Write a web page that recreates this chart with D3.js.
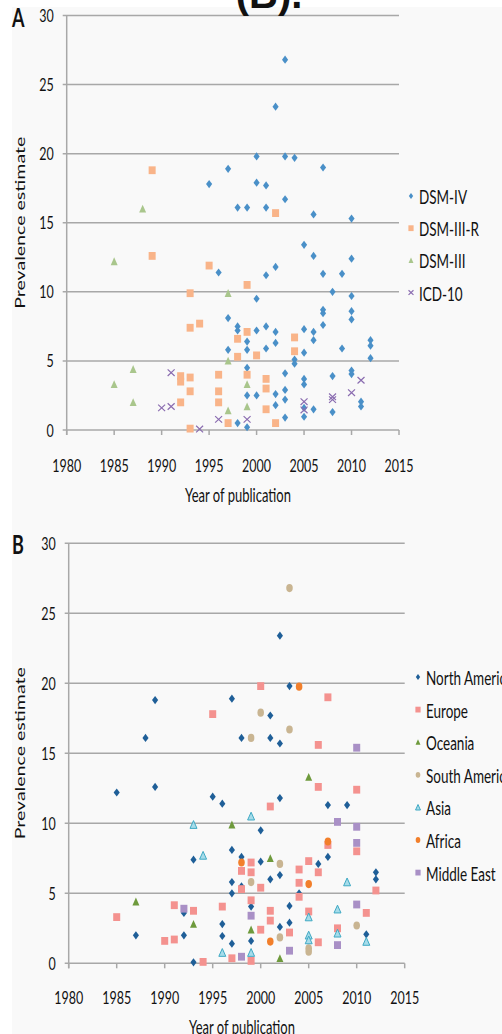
<!DOCTYPE html>
<html><head><meta charset="utf-8">
<script src="https://cdn.jsdelivr.net/npm/d3@7"></script>
<style>html,body{margin:0;padding:0;background:#fff;}svg{display:block;}</style>
</head><body>
<svg id="chart" width="502" height="1034"></svg>
<script>
// ---------- DATA ----------
const yearTicks = [1980,1985,1990,1995,2000,2005,2010,2015];
const valueTicks = [0,5,10,15,20,25,30];

// Panel A: diagnostic criteria  [year, prevalence]
const dsmIV = [[1995,17.8],[1996,11.4],[1997,18.9],[1997,8.1],[1997,5.8],[1998,16.1],[1998,7.5],[1998,7.2],[1998,0.5],
 [1999,16.1],[1999,6.4],[1999,5.8],[1999,4.5],[1999,2.5],[1999,0.2],[2000,19.8],[2000,17.9],[2000,9.5],[2000,7.2],[2000,2.5],
 [2001,17.7],[2001,16.1],[2001,11.2],[2001,7.5],[2001,5.9],[2002,23.4],[2002,11.8],[2002,7.1],[2002,6.3],[2002,2.6],[2002,1.8],
 [2003,26.8],[2003,19.8],[2003,16.7],[2003,4.1],[2003,2.9],[2003,2.2],[2003,0.9],[2004,19.7],[2004,5.1],[2004,4.8],
 [2005,13.4],[2005,7.3],[2005,5.6],[2005,3.7],[2005,3.3],[2005,1.6],[2005,0.96],[2006,15.6],[2006,12.6],[2006,7.1],[2006,6.5],[2006,1.5],
 [2007,19.0],[2007,11.3],[2007,8.7],[2007,8.45],[2007,7.6],[2008,10.0],[2008,3.9],[2008,1.3],[2009,11.3],[2009,5.9],
 [2010,15.3],[2010,12.4],[2010,9.7],[2010,8.6],[2010,8.0],[2010,4.3],[2010,4.05],[2011,2.05],[2011,1.7],[2012,6.5],[2012,6.1],[2012,5.2]];
const dsmIIIR = [[1989,18.8],[1989,12.6],[1992,3.9],[1992,3.5],[1992,2.0],[1993,9.9],[1993,7.4],[1993,3.8],[1993,2.8],[1993,0.1],
 [1994,7.7],[1995,11.9],[1996,4.0],[1996,2.8],[1996,2.0],[1997,0.5],[1998,6.6],[1998,5.3],[1999,10.5],[1999,7.1],[1999,4.0],
 [2000,5.4],[2001,3.7],[2001,3.0],[2001,1.5],[2002,15.7],[2002,0.5],[2004,6.7],[2004,5.7]];
const dsmIII = [[1985,12.2],[1985,3.3],[1987,4.4],[1987,2.0],[1988,16.0],[1997,9.9],[1997,5.0],[1997,1.4],[1999,3.3],[1999,1.7]];
const icd10 = [[1990,1.6],[1991,4.15],[1991,1.7],[1994,0.07],[1996,0.77],[1999,0.77],[2005,2.05],[2005,1.45],[2008,2.4],[2008,2.2],[2010,2.7],[2011,3.6]];

// Panel B: region
const northAmerica = [[1985,12.2],[1987,2.0],[1988,16.1],[1989,18.8],[1989,12.6],[1992,3.6],[1992,2.0],[1993,7.4],[1993,0.07],
 [1995,11.9],[1996,11.4],[1996,2.8],[1996,1.95],[1997,18.9],[1997,8.1],[1997,5.8],[1997,5.0],[1997,1.4],[1998,16.1],[1998,7.6],[1998,5.5],
 [1999,4.05],[1999,1.6],[2000,9.5],[2000,7.26],[2001,17.7],[2001,16.1],[2001,6.0],[2002,23.4],[2002,15.7],[2002,11.8],[2002,6.3],[2002,2.6],
 [2003,19.8],[2003,4.1],[2003,2.9],[2004,5.0],[2006,7.1],[2007,11.3],[2007,7.6],[2009,11.3],[2011,2.07],[2012,6.5],[2012,6.0]];
const europe = [[1985,3.3],[1990,1.6],[1991,4.15],[1991,1.7],[1993,3.75],[1994,0.1],[1995,17.8],[1996,4.05],[1997,0.36],
 [1998,6.6],[1998,5.3],[1999,7.2],[1999,6.5],[1999,4.5],[1999,0.17],[2000,19.8],[2000,5.4],[2000,2.4],[2001,11.2],[2001,3.75],[2001,3.05],
 [2003,2.2],[2004,6.7],[2004,5.75],[2004,4.75],[2005,7.3],[2005,3.7],[2006,15.6],[2006,12.6],[2006,6.5],[2006,1.5],[2007,19.0],[2007,8.45],
 [2008,2.5],[2010,12.4],[2010,8.0],[2011,3.6],[2012,5.2]];
const oceania = [[1987,4.4],[1993,2.8],[1997,9.9],[1999,2.4],[2001,7.5],[2002,0.36],[2005,13.3]];
const southAmerica = [[1999,16.1],[1999,5.8],[2000,17.9],[2002,7.1],[2002,1.85],[2003,26.8],[2003,16.7],[2005,1.07],[2005,0.83],[2010,2.7]];
const asia = [[1993,9.9],[1994,7.7],[1996,0.76],[1999,10.5],[1999,0.76],[2005,3.3],[2005,2.0],[2005,1.66],[2008,3.86],[2008,2.14],[2009,5.8],[2011,1.55]];
const africa = [[1998,7.2],[2001,1.55],[2004,19.76],[2005,5.66],[2007,8.7]];
const middleEast = [[1992,3.9],[1998,0.47],[1999,3.4],[2003,0.9],[2008,10.1],[2008,1.3],[2010,15.4],[2010,9.75],[2010,8.6],[2010,4.2]];

const seriesA = [
  {name:"DSM-IV", data:dsmIV, shape:"diamond", fill:"#4a90c8", stroke:"none"},
  {name:"DSM-III-R", data:dsmIIIR, shape:"square", fill:"#f9b489", stroke:"none"},
  {name:"DSM-III", data:dsmIII, shape:"triangle", fill:"#a9c68c", stroke:"none"},
  {name:"ICD-10", data:icd10, shape:"cross", fill:"none", stroke:"#8a6cb0"}
];
const seriesB = [
  {name:"North America", data:northAmerica, shape:"diamond", fill:"#1f5f98", stroke:"none"},
  {name:"Europe", data:europe, shape:"square", fill:"#f4928f", stroke:"none"},
  {name:"Oceania", data:oceania, shape:"triangle", fill:"#6e9a3c", stroke:"none"},
  {name:"South America", data:southAmerica, shape:"circle", fill:"#c9b592", stroke:"none"},
  {name:"Asia", data:asia, shape:"triangle", fill:"#a6dcea", stroke:"#3fa9c4"},
  {name:"Africa", data:africa, shape:"circle", fill:"#f27f2b", stroke:"none"},
  {name:"Middle East", data:middleEast, shape:"square", fill:"#a990c6", stroke:"none"}
];

// ---------- DRAW ----------
const SY = 1.45;
const FONT = "Lato, 'Open Sans', sans-serif";
const svg = d3.select("#chart");
svg.append("rect").attr("x",0).attr("y",0).attr("width",502).attr("height",1034).attr("fill","#ffffff");
svg.append("rect").attr("x",12).attr("y",7).attr("width",490).attr("height",1027).attr("fill","#f9f9f9");

function text(g, x, y, s, o={}) {
  const t = g.append("text")
    .attr("transform", `translate(${x},${y}) scale(1,${SY})` + (o.rotate ? ` rotate(${o.rotate})` : ""))
    .attr("font-family", FONT).attr("font-size", o.size || 12)
    .attr("font-weight", o.weight || "normal")
    .attr("fill", o.color || "#111")
    .attr("text-anchor", o.anchor || "start");
  if (o.dy) t.attr("dy", o.dy);
  t.text(s);
  return t;
}

function shapePath(shape, s) {
  const p = d3.path();
  if (shape === "diamond") { const w=s*0.75, h=s; p.moveTo(0,-h); p.lineTo(w,0); p.lineTo(0,h); p.lineTo(-w,0); p.closePath(); }
  else if (shape === "square") { const w=s*0.9, h=s; p.rect(-w,-h,2*w,2*h); }
  else if (shape === "triangle") { const w=s*0.85, h=s; p.moveTo(0,-h); p.lineTo(w,h*0.9); p.lineTo(-w,h*0.9); p.closePath(); }
  else if (shape === "cross") { const w=s*0.85, h=s*0.8; p.moveTo(-w,-h); p.lineTo(w,h); p.moveTo(w,-h); p.lineTo(-w,h); }
  return p.toString();
}

function drawMarker(g, shape, cx, cy, s, fill, stroke) {
  if (shape === "circle") {
    return g.append("ellipse").attr("cx",cx).attr("cy",cy).attr("rx",s*0.8).attr("ry",s).attr("fill",fill);
  }
  return g.append("path").attr("transform",`translate(${cx},${cy})`).attr("d",shapePath(shape,s))
    .attr("fill",fill).attr("stroke",stroke).attr("stroke-width", shape==="cross"?1.2:1);
}

function panel(cfg) {
  const g = svg.append("g");
  const x = d3.scaleLinear().domain([1980,2015]).range([cfg.x0, cfg.x1]);
  const y = d3.scaleLinear().domain([0,30]).range([cfg.y0, cfg.y1]);
  const grid = "#a8a8a8";
  valueTicks.forEach(v => {
    g.append("line").attr("x1", x(1980)-4).attr("x2", x(2015)).attr("y1", y(v)).attr("y2", y(v))
      .attr("stroke", grid).attr("stroke-width", 1.5);
    text(g, x(1980)-13, y(v), String(v), {anchor:"end", size:12.5, dy:"0.36em"});
  });
  g.append("line").attr("x1", x(1980)).attr("x2", x(1980)).attr("y1", y(30)).attr("y2", y(0)+5)
    .attr("stroke", grid).attr("stroke-width", 1.5);
  yearTicks.forEach(t => {
    g.append("line").attr("x1", x(t)).attr("x2", x(t)).attr("y1", y(0)).attr("y2", y(0)+5)
      .attr("stroke", grid).attr("stroke-width", 1.5);
    text(g, x(t), y(0)+cfg.tickDy, String(t), {anchor:"middle", size:12.5});
  });
  text(g, cfg.xTitleX, y(0)+cfg.titleDy, "Year of publication", {anchor:"middle", size:13});
  text(g, 25, (y(0)+y(30))/2, "Prevalence estimate", {anchor:"middle", size:13.5, rotate:-90});
  text(g, 12, y(30)+11, cfg.label, {size:18, weight:"bold"});
  cfg.series.forEach(s => {
    const mg = g.append("g");
    s.data.forEach(d => drawMarker(mg, s.shape, x(d[0]), y(d[1]), s.shape==="square"?3.9:4.1, s.fill, s.stroke));
  });
  cfg.series.forEach((s, i) => {
    const ly = cfg.legY + i*cfg.legStep;
    drawMarker(g, s.shape, cfg.legX, ly - 1, 2.9, s.fill, s.stroke);
    text(g, cfg.legX + 8, ly, s.name, {size:13.5, dy:"0.36em"});
  });
}

panel({label:"A", x0:66.7, x1:399, y0:430, y1:15.5, series:seriesA, tickDy:42, titleDy:72, xTitleX:238,
       legX:411, legY:197, legStep:32.2});
panel({label:"B", x0:68.7, x1:404.7, y0:963.3, y1:543.3, series:seriesB, tickDy:41, titleDy:71, xTitleX:242,
       legX:418, legY:678, legStep:32.6});

// cropped figure title at top
svg.append("text").attr("x", 269).attr("y", 8).attr("text-anchor","middle")
  .attr("font-family","'Liberation Sans', Arial, sans-serif").attr("font-weight","bold").attr("font-size",40)
  .attr("fill","#111").text("(B).");
</script>
</body></html>
